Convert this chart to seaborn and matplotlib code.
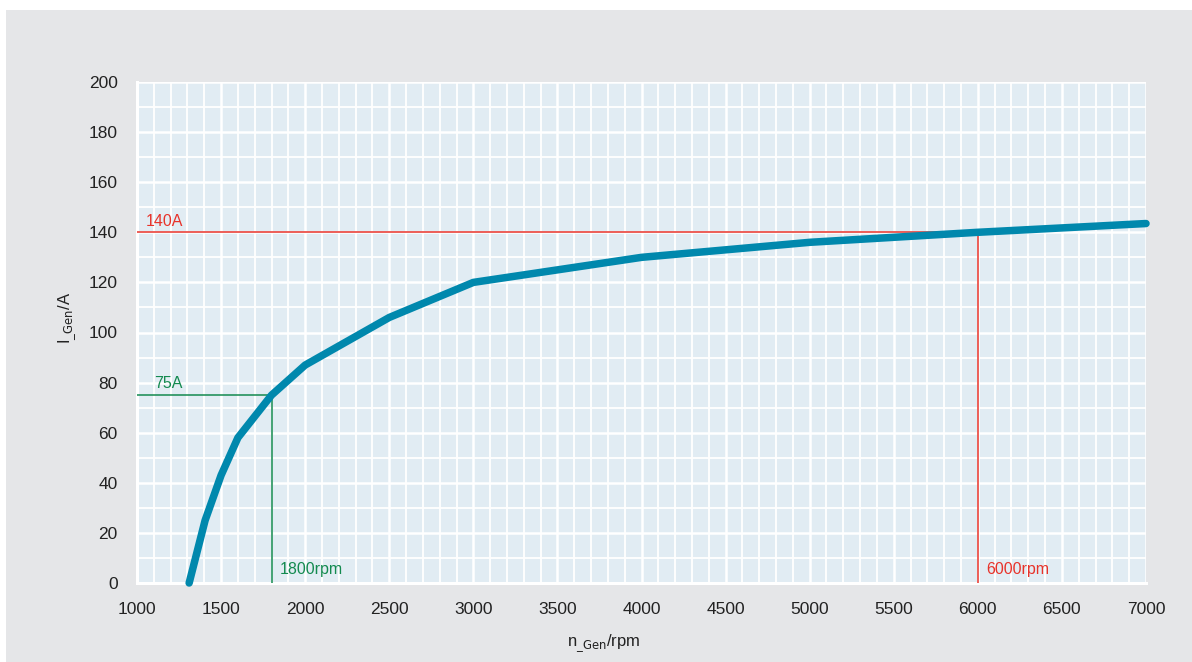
import matplotlib
matplotlib.use('Agg')
import matplotlib.pyplot as plt
from matplotlib.patches import Rectangle
from matplotlib.ticker import MultipleLocator
import pandas as pd
import seaborn as sns

# generator current vs. speed
speed_rpm = [1310, 1405, 1500, 1600, 1800, 2000, 2500, 3000, 4000, 5000, 6000, 7000]
current_a = [0, 25, 43, 58, 75, 87, 106, 120, 130, 136, 140, 143.5]

# marked operating points
mark_speeds = [1800, 6000]
mark_currents = [75, 140]
mark_colors = ['#138a4f', '#e8332a']

sns.set_theme(style='white')
plt.rcParams['font.family'] = ['Liberation Sans', 'DejaVu Sans']

bg_gray = '#e5e6e8'
panel = '#e1ecf3'

fig = plt.figure(figsize=(11.92, 6.62), dpi=100, facecolor='white')
fig.patches.append(Rectangle((6 / 1192, 0), 1, 1 - 10 / 662, transform=fig.transFigure,
                             facecolor=bg_gray, edgecolor='none', zorder=-10))
ax = fig.add_axes([137 / 1192, 79 / 662, 1009 / 1192, 501 / 662])
ax.set_facecolor(panel)

df = pd.DataFrame({'n_Gen': speed_rpm, 'I_Gen': current_a})

# reference lines
for n, i, c in zip(mark_speeds, mark_currents, mark_colors):
    ax.plot([1000, n], [i, i], color=c, lw=1.1, zorder=3)
    ax.plot([n, n], [0, i], color=c, lw=1.1, zorder=3)
    ax.text(n + 50, 2.5, f'{n}rpm', color=c, fontsize=11.5, va='bottom', ha='left', zorder=4)
ax.text(1100, 76.5, '75A', color=mark_colors[0], fontsize=11.5, va='bottom', ha='left')
ax.text(1050, 141.5, '140A', color=mark_colors[1], fontsize=11.5, va='bottom', ha='left')

sns.lineplot(data=df, x='n_Gen', y='I_Gen', ax=ax, color='#0088ad', lw=5.4,
             solid_capstyle='round', solid_joinstyle='round', zorder=5, clip_on=False)

ax.set_xlim(1000, 7000)
ax.set_ylim(0, 200)
ax.xaxis.set_major_locator(MultipleLocator(500))
ax.xaxis.set_minor_locator(MultipleLocator(100))
ax.yaxis.set_major_locator(MultipleLocator(20))
ax.yaxis.set_minor_locator(MultipleLocator(10))
ax.grid(which='major', color='white', lw=1.8, zorder=0)
ax.grid(which='minor', color='white', lw=1.3, zorder=0)
ax.set_axisbelow(True)

for side in ['top', 'right']:
    ax.spines[side].set_visible(False)
for side in ['left', 'bottom']:
    ax.spines[side].set_color('white')
    ax.spines[side].set_linewidth(2.2)

ax.tick_params(which='major', direction='out', length=10, width=2.2, color='white',
               labelsize=12.5, labelcolor='#222222', pad=4)
ax.tick_params(which='minor', length=0)

ax.set_xlabel(r'n$_{\_\mathrm{Gen}}$/rpm', fontsize=12, color='#222222')
ax.set_ylabel(r'I$_{\_\mathrm{Gen}}$/A', fontsize=12, color='#222222')
ax.xaxis.set_label_coords(0.463, -0.098)
ax.yaxis.set_label_coords(-0.058, 0.53)

fig.savefig('out.png', dpi=100, facecolor=fig.get_facecolor())
